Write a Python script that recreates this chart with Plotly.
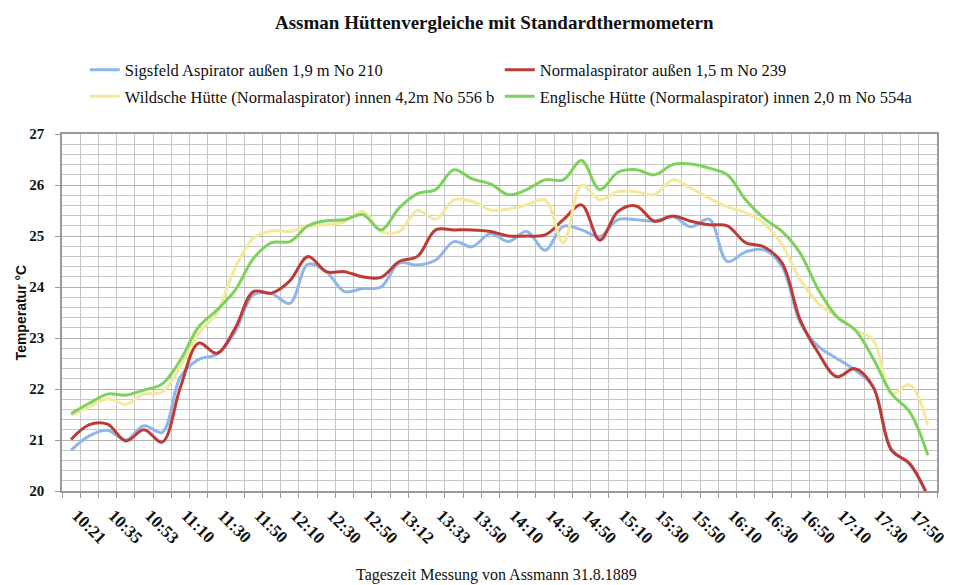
import plotly.graph_objects as go

# ---- data ----
time_labels = ["10:21", "10:35", "10:53", "11:10", "11:30", "11:50", "12:10", "12:30",
               "12:50", "13:12", "13:33", "13:50", "14:10", "14:30", "14:50", "15:10",
               "15:30", "15:50", "16:10", "16:30", "16:50", "17:10", "17:30", "17:50"]

sigsfeld = [20.80, 21.08, 21.19, 21.00, 21.28, 21.15, 22.24, 22.58, 22.68, 23.12,
            23.85, 23.87, 23.68, 24.45, 24.30, 23.91, 23.97, 24.00, 24.47, 24.43,
            24.53, 24.89, 24.79, 25.05, 24.89, 25.09, 24.72, 25.19, 25.12, 24.99,
            25.32, 25.32, 25.29, 25.38, 25.18, 25.33, 24.50, 24.69, 24.73, 24.40,
            23.30, 22.83, 22.60, 22.37, 22.04, 20.82, 20.52, 19.90]

normal = [21.01, 21.30, 21.31, 20.98, 21.20, 20.96, 22.04, 22.90, 22.70, 23.19,
          23.91, 23.88, 24.12, 24.60, 24.30, 24.30, 24.20, 24.19, 24.50, 24.60,
          25.12, 25.12, 25.12, 25.09, 25.00, 25.00, 25.02, 25.32, 25.61, 24.92,
          25.48, 25.59, 25.29, 25.39, 25.29, 25.22, 25.20, 24.87, 24.79, 24.47,
          23.35, 22.70, 22.24, 22.40, 22.04, 20.80, 20.54, 19.90]

wildsche = [21.49, 21.65, 21.81, 21.70, 21.90, 21.94, 22.44, 23.09, 23.50, 24.37,
            24.96, 25.10, 25.09, 25.20, 25.22, 25.28, 25.48, 25.09, 25.09, 25.50,
            25.33, 25.71, 25.68, 25.51, 25.53, 25.61, 25.71, 24.87, 26.00, 25.71,
            25.87, 25.87, 25.81, 26.10, 25.94, 25.74, 25.57, 25.46, 25.25, 24.83,
            24.14, 23.68, 23.42, 23.16, 22.96, 21.91, 22.08, 21.29]

englische = [21.52, 21.72, 21.90, 21.88, 21.98, 22.10, 22.57, 23.22, 23.55, 23.94,
             24.56, 24.87, 24.89, 25.20, 25.30, 25.32, 25.42, 25.12, 25.55, 25.83,
             25.91, 26.30, 26.12, 26.02, 25.81, 25.91, 26.10, 26.10, 26.48, 25.91,
             26.25, 26.30, 26.20, 26.40, 26.41, 26.33, 26.20, 25.71, 25.35, 25.09,
             24.66, 23.94, 23.42, 23.16, 22.60, 21.91, 21.55, 20.70]

series_names = ["Sigsfeld Aspirator außen 1,9 m No 210",
                "Normalaspirator außen 1,5 m No 239",
                "Wildsche Hütte (Normalaspirator) innen 4,2m No 556 b",
                "Englische Hütte (Normalaspirator) innen 2,0 m No 554a"]
series_values = [sigsfeld, normal, wildsche, englische]
series_colors = ["#8FB6EA", "#BE3A35", "#F3E89C", "#7ED25C"]
series_legend = ["legend", "legend", "legend2", "legend2"]

x_idx = list(range(len(sigsfeld)))

fig = go.Figure()
for name, vals, col, lg in zip(series_names, series_values, series_colors, series_legend):
    fig.add_trace(go.Scatter(
        x=x_idx, y=vals, name=name, mode="lines",
        line=dict(color=col, width=3, shape="spline", smoothing=1.0),
        legend=lg, cliponaxis=True,
    ))

serif = "Liberation Serif, Times New Roman, serif"
grid_col = "#c6c6c6"

# page has an 8px body margin -> figure is 946x577 so it fills the 954x585 window
W, H = 946, 577
fig.update_layout(
    width=W, height=H,
    margin=dict(l=54, r=17, t=126, b=94, autoexpand=False),
    paper_bgcolor="white", plot_bgcolor="white",
    title=dict(text="<b>Assman Hüttenvergleiche mit Standardthermometern</b>",
               font=dict(family=serif, size=19, color="#111"),
               x=0.494, xref="paper", xanchor="center",
               y=1 - 14 / H, yref="container", yanchor="middle"),
    legend=dict(orientation="h", x=0.026, xanchor="left", y=1.179, yanchor="middle",
                entrywidth=370, entrywidthmode="pixels", itemwidth=30,
                font=dict(family=serif, size=16.5, color="#111"),
                bgcolor="rgba(0,0,0,0)", borderwidth=0),
    legend2=dict(orientation="h", x=0.026, xanchor="left", y=1.105, yanchor="middle",
                 entrywidth=370, entrywidthmode="pixels", itemwidth=30,
                 font=dict(family=serif, size=16.5, color="#111"),
                 bgcolor="rgba(0,0,0,0)", borderwidth=0),
    showlegend=True,
)

fig.update_xaxes(
    type="linear", range=[-0.5, len(x_idx) - 0.5],
    tickmode="array", tickvals=x_idx[::2], ticktext=time_labels,
    tickangle=45, ticks="", showgrid=False, zeroline=False,
    ticklabelshift=6, ticklabelstandoff=6,
    tickfont=dict(family=serif, size=17, color="#111", weight="bold"),
    showline=True, linecolor="#9a9a9a", linewidth=1.5, mirror=True,
    minor=dict(tickmode="linear", tick0=-0.5, dtick=1, showgrid=True,
               gridcolor=grid_col, gridwidth=1, ticks="outside", ticklen=5,
               tickcolor="#9a9a9a"),
    automargin=False,
)
fig.update_yaxes(
    range=[20, 27], tickmode="linear", tick0=20, dtick=1,
    showgrid=True, gridcolor="#b4b4b4", gridwidth=1, zeroline=False,
    ticks="outside", ticklen=5, tickcolor="#9a9a9a", ticklabelstandoff=8,
    tickfont=dict(family=serif, size=15, color="#111", weight="bold"),
    showline=True, linecolor="#9a9a9a", linewidth=1.5, mirror=True,
    minor=dict(tickmode="linear", tick0=20, dtick=0.2, showgrid=True,
               gridcolor=grid_col, gridwidth=1),
    automargin=False,
)

fig.add_annotation(text="Tageszeit Messung von Assmann 31.8.1889",
                   xref="paper", yref="paper", x=0.497, y=-0.236,
                   xanchor="center", yanchor="middle", showarrow=False,
                   font=dict(family=serif, size=16, color="#111"))
fig.add_annotation(text="<b>Temperatur °C</b>",
                   xref="paper", yref="paper", x=-0.047, y=0.5,
                   xanchor="center", yanchor="middle", showarrow=False,
                   textangle=-90,
                   font=dict(family="Liberation Sans, Arial, sans-serif", size=14, color="#111"))

fig.write_html("out.html")
